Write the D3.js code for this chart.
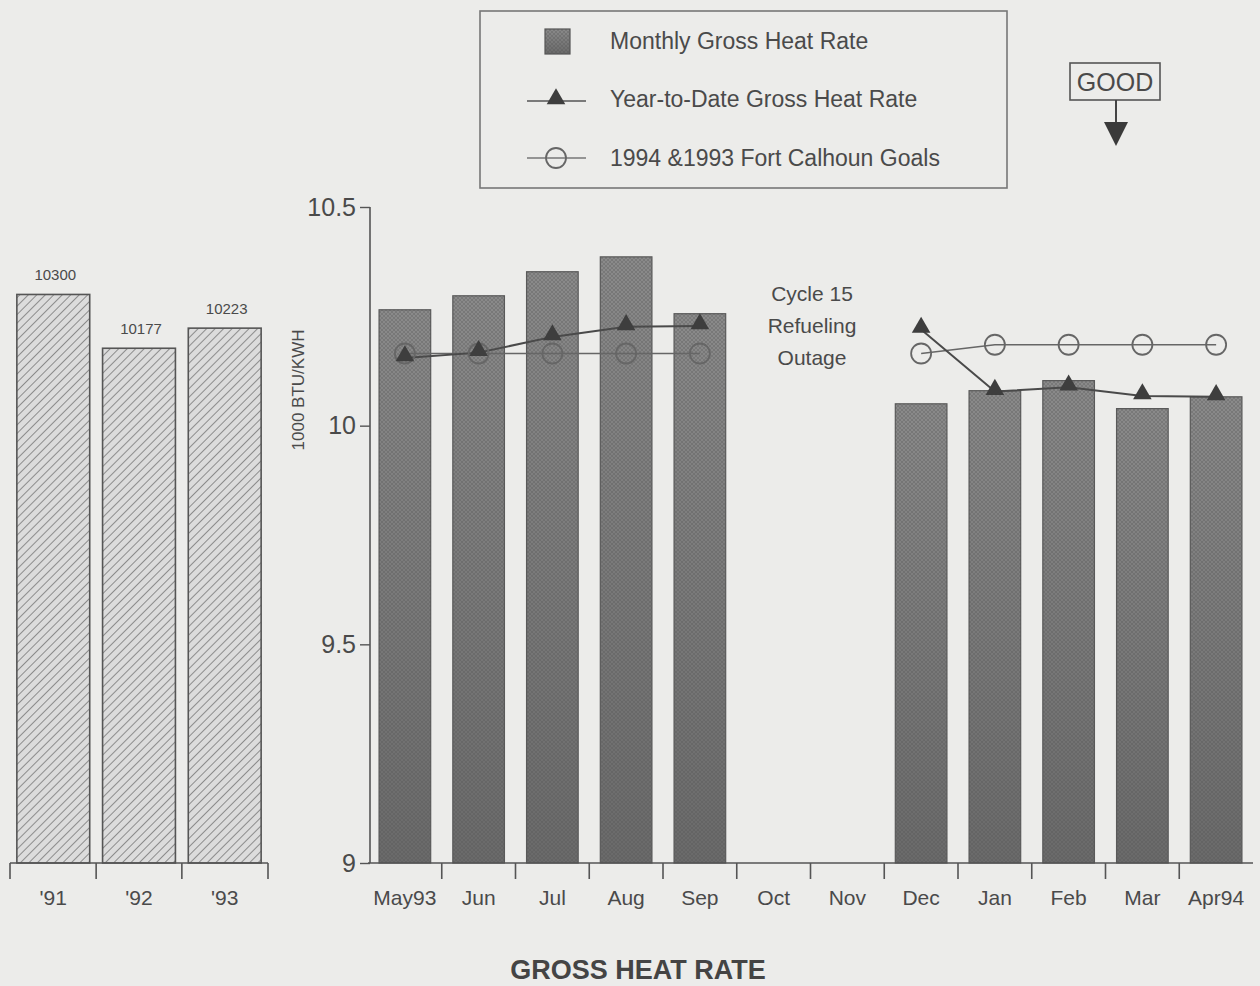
<!DOCTYPE html>
<html><head><meta charset="utf-8">
<script src="https://cdn.jsdelivr.net/npm/d3@7/dist/d3.min.js"></script>
<style>html,body{margin:0;padding:0;background:#ececea;}svg{display:block;}</style>
</head><body>
<svg id="c" width="1260" height="986"></svg>
<script>
// ---- data ----
const years = ["'91", "'92", "'93"];
const yearValues = [10300, 10177, 10223];
const months = ["May93","Jun","Jul","Aug","Sep","Oct","Nov","Dec","Jan","Feb","Mar","Apr94"];
const monthly = [10.265, 10.297, 10.352, 10.386, 10.256, null, null, 10.050, 10.080, 10.103, 10.039, 10.066];
const ytd =     [10.155, 10.167, 10.203, 10.226, 10.228, null, null, 10.220, 10.078, 10.088, 10.068, 10.066];
const goals =   [10.165, 10.165, 10.165, 10.165, 10.165, null, null, 10.165, 10.185, 10.185, 10.185, 10.185];
const yTicks = [9, 9.5, 10, 10.5];
const legendLabels = ["Monthly Gross Heat Rate", "Year-to-Date Gross Heat Rate", "1994 &1993 Fort Calhoun Goals"];
const outageText = ["Cycle 15", "Refueling", "Outage"];

const svg = d3.select("#c");
const FONT = "'Liberation Sans', Arial, sans-serif";
const ink = "#4a4a4a";

// defs
const defs = svg.append("defs");
const hatch = defs.append("pattern").attr("id","hatch").attr("patternUnits","userSpaceOnUse")
  .attr("width",6).attr("height",6).attr("patternTransform","rotate(45)");
hatch.append("rect").attr("width",6).attr("height",6).attr("fill","#dcdcdc");
hatch.append("line").attr("x1",0).attr("y1",0).attr("x2",0).attr("y2",6).attr("stroke","#6a6a6a").attr("stroke-width",1.4);

const grad = defs.append("linearGradient").attr("id","barGrad").attr("x1",0).attr("y1",0).attr("x2",0).attr("y2",1);
grad.append("stop").attr("offset","0%").attr("stop-color","#8a8a8a");
grad.append("stop").attr("offset","60%").attr("stop-color","#777");
grad.append("stop").attr("offset","100%").attr("stop-color","#6a6a6a");

const stip = defs.append("pattern").attr("id","stip").attr("patternUnits","userSpaceOnUse")
  .attr("width",4).attr("height",4);
stip.append("path").attr("d","M0,4 L4,0 M0,0 L4,4").attr("stroke","#555").attr("stroke-width",0.6).attr("opacity",0.55);

// scales
const y = d3.scaleLinear().domain([9, 10.5]).range([863, 207]);
const xYear = d3.scaleBand().domain(years).range([10, 268]).paddingInner(0.15).paddingOuter(0.08);
const xMon = d3.scaleBand().domain(months).range([368, 1253]).paddingInner(0.3).paddingOuter(0.15);

// ---- left chart (annual) ----
svg.append("g").selectAll("rect").data(years).join("rect")
  .attr("x", d => xYear(d)).attr("width", xYear.bandwidth())
  .attr("y", (d,i) => y(yearValues[i]/1000))
  .attr("height", (d,i) => y(9) - y(yearValues[i]/1000))
  .attr("fill","url(#hatch)").attr("stroke","#555").attr("stroke-width",1.6);

svg.append("g").selectAll("text").data(years).join("text")
  .attr("x", d => xYear(d) + xYear.bandwidth()/2 + 2)
  .attr("y", (d,i) => y(yearValues[i]/1000) - 14)
  .attr("text-anchor","middle").attr("font-family",FONT).attr("font-size",15).attr("fill",ink)
  .text((d,i) => yearValues[i]);

const axL = d3.axisBottom(xYear).tickSize(0).tickPadding(42);
const gL = svg.append("g").attr("transform","translate(0,863)").call(axL);
gL.select(".domain").attr("stroke","#555").attr("stroke-width",1.6).attr("d","M10,0H268");
gL.selectAll("text").attr("font-family",FONT).attr("font-size",21).attr("fill",ink).attr("dy","0");
// band-boundary ticks
svg.append("g").selectAll("line").data([0,1,2,3]).join("line")
  .attr("x1", i => i===0 ? 10 : (i===3 ? 268 : xYear(years[i]) - xYear.step()*xYear.paddingInner()/2))
  .attr("x2", i => i===0 ? 10 : (i===3 ? 268 : xYear(years[i]) - xYear.step()*xYear.paddingInner()/2))
  .attr("y1",863).attr("y2",879).attr("stroke","#555").attr("stroke-width",1.6);

// ---- main chart ----
const monthIdx = months.map((m,i) => i).filter(i => monthly[i] !== null);
const gb = svg.append("g");
gb.selectAll("rect.b").data(monthIdx).join("rect").attr("class","b")
  .attr("x", i => xMon(months[i])).attr("width", xMon.bandwidth())
  .attr("y", i => y(monthly[i])).attr("height", i => y(9) - y(monthly[i]))
  .attr("fill","url(#barGrad)").attr("stroke","#5a5a5a").attr("stroke-width",1.2);
gb.selectAll("rect.s").data(monthIdx).join("rect").attr("class","s")
  .attr("x", i => xMon(months[i])).attr("width", xMon.bandwidth())
  .attr("y", i => y(monthly[i])).attr("height", i => y(9) - y(monthly[i]))
  .attr("fill","url(#stip)");

// y axis
const axY = d3.axisLeft(y).tickValues(yTicks).tickSize(10).tickPadding(4).tickFormat(d3.format("~g"));
const gY = svg.append("g").attr("transform","translate(370,0)").call(axY);
gY.select(".domain").attr("stroke","#555").attr("stroke-width",1.6).attr("d","M0,207V863");
gY.selectAll(".tick line").attr("stroke","#555").attr("stroke-width",1.4);
gY.selectAll("text").attr("font-family",FONT).attr("font-size",25).attr("fill",ink);

svg.append("text").attr("transform","translate(304,390) rotate(-90)")
  .attr("text-anchor","middle").attr("font-family",FONT).attr("font-size",17).attr("fill",ink)
  .text("1000 BTU/KWH");

// x axis main
const axX = d3.axisBottom(xMon).tickSize(0).tickPadding(42);
const gX = svg.append("g").attr("transform","translate(0,863)").call(axX);
gX.select(".domain").attr("stroke","#555").attr("stroke-width",1.6).attr("d","M368,0H1253");
gX.selectAll("text").attr("font-family",FONT).attr("font-size",21).attr("fill",ink).attr("dy","0");
const bnd = months.slice(1).map(m => xMon(m) - xMon.step()*xMon.paddingInner()/2);
svg.append("g").selectAll("line").data(bnd).join("line")
  .attr("x1", d => d).attr("x2", d => d).attr("y1",863).attr("y2",879)
  .attr("stroke","#555").attr("stroke-width",1.6);

// lines
const cx = i => xMon(months[i]) + xMon.bandwidth()/2;
const goalLine = d3.line().defined(d => d.v !== null).x(d => cx(d.i)).y(d => y(d.v));
const gData = goals.map((v,i) => ({i, v}));
const tData = ytd.map((v,i) => ({i, v}));
svg.append("path").attr("d", goalLine(gData)).attr("fill","none").attr("stroke","#666").attr("stroke-width",1.6);
svg.append("path").attr("d", goalLine(tData)).attr("fill","none").attr("stroke","#4a4a4a").attr("stroke-width",2);

svg.append("g").selectAll("circle").data(gData.filter(d => d.v !== null)).join("circle")
  .attr("cx", d => cx(d.i)).attr("cy", d => y(d.v)).attr("r", 10)
  .attr("fill","none").attr("stroke","#666").attr("stroke-width",1.8);
const tri = d3.symbol().type(d3.symbolTriangle).size(150);
svg.append("g").selectAll("path").data(tData.filter(d => d.v !== null)).join("path")
  .attr("d", tri).attr("transform", d => `translate(${cx(d.i)},${y(d.v)-2})`)
  .attr("fill","#3e3e3e");

// outage note
svg.append("g").selectAll("text").data(outageText).join("text")
  .attr("x", 812).attr("y", (d,i) => 301 + i*32)
  .attr("text-anchor","middle").attr("font-family",FONT).attr("font-size",21).attr("fill",ink)
  .text(d => d);

// legend
const lg = svg.append("g");
lg.append("rect").attr("x",480).attr("y",11).attr("width",527).attr("height",177)
  .attr("fill","none").attr("stroke","#777").attr("stroke-width",1.6);
lg.append("rect").attr("x",545).attr("y",29).attr("width",25).attr("height",25)
  .attr("fill","url(#barGrad)").attr("stroke","#555").attr("stroke-width",1.2);
lg.append("rect").attr("x",545).attr("y",29).attr("width",25).attr("height",25).attr("fill","url(#stip)");
lg.append("line").attr("x1",527).attr("x2",586).attr("y1",101).attr("y2",101).attr("stroke","#555").attr("stroke-width",1.5);
lg.append("path").attr("d",tri).attr("transform","translate(556,99)").attr("fill","#3e3e3e");
lg.append("line").attr("x1",527).attr("x2",586).attr("y1",158).attr("y2",158).attr("stroke","#777").attr("stroke-width",1.5);
lg.append("circle").attr("cx",556).attr("cy",158).attr("r",10).attr("fill","none").attr("stroke","#666").attr("stroke-width",1.8);
lg.selectAll("text").data(legendLabels).join("text")
  .attr("x",610).attr("y",(d,i) => [49,107,166][i])
  .attr("font-family",FONT).attr("font-size",23).attr("fill",ink)
  .text(d => d);

// GOOD indicator
svg.append("rect").attr("x",1070).attr("y",63).attr("width",90).attr("height",37)
  .attr("fill","none").attr("stroke","#555").attr("stroke-width",1.6);
svg.append("text").attr("x",1115).attr("y",91).attr("text-anchor","middle")
  .attr("font-family",FONT).attr("font-size",25).attr("fill",ink).text("GOOD");
svg.append("line").attr("x1",1116).attr("x2",1116).attr("y1",100).attr("y2",124).attr("stroke","#444").attr("stroke-width",2);
svg.append("path").attr("d","M1104,122 L1128,122 L1116,146 Z").attr("fill","#3a3a3a");

// title
svg.append("text").attr("x",638).attr("y",979).attr("text-anchor","middle")
  .attr("font-family",FONT).attr("font-weight","bold").attr("font-size",27).attr("fill","#444")
  .text("GROSS HEAT RATE");
</script>
</body></html>
